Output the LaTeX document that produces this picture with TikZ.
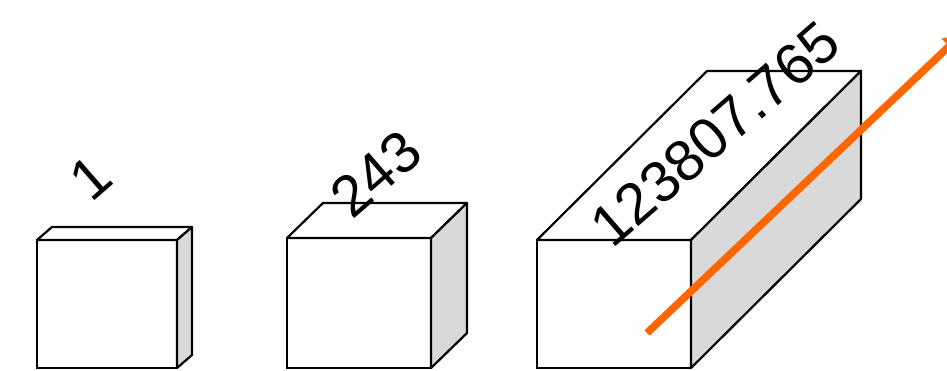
\documentclass[tikz,border=0pt]{standalone}
\usepackage{fontspec}
\setmainfont{Liberation Sans}
\usetikzlibrary{arrows.meta,calc}
\definecolor{sidegray}{HTML}{D9D9D9}
\definecolor{rayorange}{HTML}{FF6600}
\tikzset{
  frontface/.style={draw=black,line width=2.2pt,fill=white,outer sep=0pt,inner sep=0pt},
  topface/.style={draw=black,line width=2.2pt,fill=white,line join=round},
  sideface/.style={draw=black,line width=2.2pt,fill=sidegray,line join=round},
  numlabel/.style={font=\fontsize{58}{62}\selectfont,rotate=41,inner sep=0pt},
  ray/.style={-{Triangle[length=18pt,width=20pt]},line width=7.5pt,rayorange}
}

\begin{document}
\begin{tikzpicture}[x=1pt,y=1pt]
  \useasboundingbox[fill=white] (0,0) rectangle (947,370);

  % front faces of the three blocks
  \node[frontface,minimum width=140pt,minimum height=128pt] (small) at (107,66) {};
  \node[frontface,minimum width=144pt,minimum height=130pt] (cube) at (359,67) {};
  \node[frontface,minimum width=154pt,minimum height=128pt] (bar) at (614,66) {};

  % top and side faces, pushed back by the depth
  \foreach \f/\dx/\dy in {small/15/13, cube/36/35, bar/170/169} {
    \draw[topface] (\f.north west) -- ++(\dx,\dy) -- ($(\f.north east)+(\dx,\dy)$) -- (\f.north east) -- cycle;
    \draw[sideface] (\f.north east) -- ++(\dx,\dy) -- ($(\f.south east)+(\dx,\dy)$) -- (\f.south east) -- cycle;
  }

  % values written on the blocks
  \node[numlabel] (smallval) at (91,192) {1};
  \node[numlabel] (cubeval) at (376,196) {243};
  \node[numlabel] (barval) at (715,236) {123807.765};

  % ray through the long block
  \coordinate (raystart) at (647,37);
  \coordinate (rayend) at (962,336);
  \draw[ray] (raystart) -- (rayend);
\end{tikzpicture}
\end{document}
